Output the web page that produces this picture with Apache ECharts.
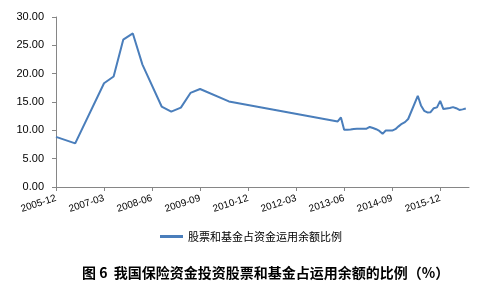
<!DOCTYPE html>
<html><head><meta charset="utf-8">
<script src="https://cdn.jsdelivr.net/npm/echarts@6/dist/echarts.min.js"></script>
<style>html,body{margin:0;padding:0;background:#fff}#c{width:485px;height:294px}</style>
</head><body><div id="c"></div>
<script>
// Axis months (category axis), from 2005-12 to 2016-09
const startYear = 2005, startMonth = 12, monthCount = 130;
const tickLabels = ['2005-12','2007-03','2008-06','2009-09','2010-12','2012-03','2013-06','2014-09','2015-12'];
const seriesName = '股票和基金占资金运用余额比例';
const titleText = '图 6  我国保险资金投资股票和基金占运用余额的比例（%）';
// Observed points (date, percent)
const dates = ['2005-12','2006-06','2007-03','2007-06','2007-09','2007-12','2008-03','2008-09','2008-12','2009-03','2009-06','2009-09','2010-06',
  '2013-04','2013-05','2013-06','2013-07','2013-08','2013-09','2013-10','2013-11','2013-12',
  '2014-01','2014-02','2014-03','2014-04','2014-05','2014-06','2014-07','2014-08','2014-09','2014-10','2014-11','2014-12',
  '2015-01','2015-02','2015-05','2015-06','2015-07','2015-08','2015-09','2015-10','2015-11','2015-12',
  '2016-01','2016-02','2016-03','2016-04','2016-05','2016-06','2016-07','2016-08'];
const values = [8.85,7.7,18.3,19.5,26.0,27.1,21.6,14.2,13.3,14.0,16.6,17.3,15.1,
  11.56,12.27,10.1,10.1,10.15,10.25,10.3,10.28,10.27,
  10.3,10.6,10.4,10.2,9.9,9.38,9.97,9.95,9.95,10.2,10.7,11.15,
  11.45,12.0,16.1,14.4,13.45,13.15,13.2,13.9,14.05,15.2,
  13.75,13.85,13.95,14.1,13.9,13.6,13.7,13.85];

const categories = [];
for (let i = 0; i < monthCount; i++) {
  const t = (startYear * 12 + startMonth - 1) + i;
  const y = Math.floor(t / 12), m = t % 12 + 1;
  categories.push(y + '-' + (m < 10 ? '0' + m : m));
}
const seriesData = categories.map(() => null);
dates.forEach((d, i) => { seriesData[categories.indexOf(d)] = values[i]; });

const chart = echarts.init(document.getElementById('c'), null, {renderer: 'canvas'});
chart.setOption({
  animation: false,
  textStyle: {fontFamily: 'Liberation Sans, Noto Sans CJK SC, sans-serif'},
  grid: {left: 56, right: 16, top: 17, bottom: 107},
  xAxis: {
    type: 'category', data: categories, boundaryGap: false,
    axisLine: {lineStyle: {color: '#868686', width: 1}},
    axisTick: {show: true, interval: 14, length: 4, lineStyle: {color: '#868686'}},
    axisLabel: {interval: 14, rotate: 18, fontSize: 10, color: '#000', margin: 11,
      formatter: v => tickLabels.indexOf(v) >= 0 ? v : ''}
  },
  yAxis: {
    type: 'value', min: 0, max: 30, interval: 5,
    splitLine: {show: false},
    axisLine: {show: true, lineStyle: {color: '#868686', width: 1}},
    axisTick: {show: true, length: 4, lineStyle: {color: '#868686'}},
    axisLabel: {fontSize: 11, color: '#000', margin: 12, formatter: v => v.toFixed(2)}
  },
  legend: {
    left: 155, top: 226, itemWidth: 23, itemHeight: 3, icon: 'rect', itemGap: 4,
    textStyle: {fontSize: 11, color: '#000', fontFamily: 'Noto Sans CJK SC, sans-serif'},
    data: [seriesName]
  },
  title: {
    text: titleText, left: 77, top: 261,
    textStyle: {fontSize: 14, fontWeight: 'bold', color: '#000', fontFamily: 'Noto Sans CJK SC, sans-serif'}
  },
  series: [{
    name: seriesName, type: 'line', data: seriesData, connectNulls: true,
    symbol: 'none', lineStyle: {color: '#4A7EBB', width: 2}, itemStyle: {color: '#4A7EBB'}
  }]
});
</script></body></html>
